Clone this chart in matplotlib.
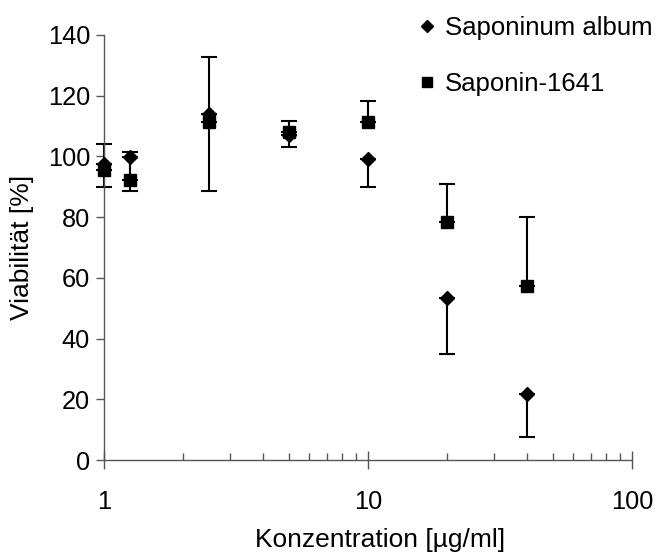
import matplotlib
matplotlib.use("Agg")
import matplotlib.pyplot as plt
from matplotlib.ticker import LogLocator, FixedLocator, NullFormatter

plt.rcParams['font.family'] = ['Liberation Sans', 'DejaVu Sans']

conc = [1, 1.25, 2.5, 5, 10, 20, 40]

album_vals = [97.5, 99.9, 114.0, 107.0, 99.2, 53.3, 21.6]
album_err_minus = [7.5, 11.2, 25.3, 3.8, 9.2, 18.5, 13.9]

s1641_vals = [95.5, 92.4, 111.4, 108.2, 111.4, 78.5, 57.4]
s1641_err_plus = [8.5, 9.1, 21.5, 3.6, 6.9, 12.3, 22.8]

x_ticks = [1, 10, 100]
x_tick_labels = ["1", "10", "100"]
y_ticks = [0, 20, 40, 60, 80, 100, 120, 140]

TICK_FS = 18.3
LABEL_FS = 19.0
LEGEND_FS = 18.5

fig = plt.figure(figsize=(6.57, 5.58), dpi=100)
ax = fig.add_axes([104 / 657, 1 - 460 / 558, (632 - 104) / 657, (460 - 35) / 558])

ax.set_xscale('log')
ax.set_xlim(1, 100)
ax.set_ylim(0, 140)

# one-sided error bars: downward for Saponinum album, upward for Saponin-1641
err_kw = dict(fmt='none', ecolor='black', elinewidth=1.5, capsize=6, capthick=1.5, zorder=2)
for eb in (ax.errorbar(conc, album_vals, yerr=[album_err_minus, [0] * len(conc)], **err_kw),
           ax.errorbar(conc, s1641_vals, yerr=[[0] * len(conc), s1641_err_plus], **err_kw)):
    for art in eb.lines[1] + eb.lines[2]:
        art.set_clip_on(False)

ax.plot(conc, s1641_vals, linestyle='none', marker='s', markersize=8.5,
        color='black', label='Saponin-1641', zorder=3, clip_on=False)
ax.plot(conc, album_vals, linestyle='none', marker='D', markersize=7.5,
        color='black', label='Saponinum album', zorder=4, clip_on=False)

for side in ('top', 'right'):
    ax.spines[side].set_visible(False)
for side in ('left', 'bottom'):
    ax.spines[side].set_color('#555555')
    ax.spines[side].set_linewidth(1)

ax.xaxis.set_major_locator(FixedLocator(x_ticks))
ax.set_xticklabels(x_tick_labels)
ax.xaxis.set_minor_locator(LogLocator(base=10, subs=range(2, 10)))
ax.xaxis.set_minor_formatter(NullFormatter())
ax.set_yticks(y_ticks)

ax.tick_params(axis='x', which='major', direction='inout', length=13, width=1,
               color='#555555', labelsize=TICK_FS, pad=15)
ax.tick_params(axis='x', which='minor', direction='in', length=5, width=1,
               color='#555555')
ax.tick_params(axis='y', which='major', direction='out', length=6, width=1,
               color='#555555', labelsize=TICK_FS, pad=4)

ax.set_xlabel('Konzentration [µg/ml]', fontsize=LABEL_FS)
ax.xaxis.label.set_verticalalignment('center')
ax.xaxis.set_label_coords((380.5 - 104) / 528, -(540 - 460) / 425)
ax.set_ylabel('Viabilität [%]', fontsize=LABEL_FS)
ax.yaxis.label.set_verticalalignment('center')
ax.yaxis.set_label_coords(-(104 - 22) / 528, 0.5)

handles, labels = ax.get_legend_handles_labels()
fig.legend(handles[::-1], labels[::-1], loc='upper left',
           bbox_to_anchor=(409 / 657, 1 - 6 / 558), frameon=False,
           fontsize=LEGEND_FS, labelspacing=1.25, handlelength=0.6,
           handletextpad=0.4, markerscale=0.85, borderaxespad=0)

fig.savefig('out.png', dpi=100)
